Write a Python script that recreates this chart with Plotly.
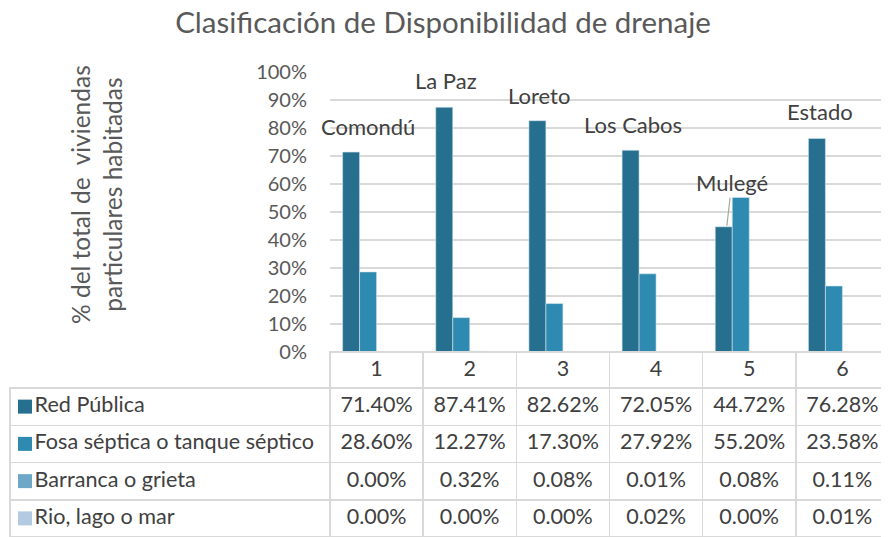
import plotly.graph_objects as go

categories = ["1", "2", "3", "4", "5", "6"]
municipios = ["Comondú", "La Paz", "Loreto", "Los Cabos", "Mulegé", "Estado"]

series_names = ["Red Pública", "Fosa séptica o tanque séptico",
                "Barranca o grieta", "Rio, lago o mar"]
red_publica = [71.40, 87.41, 82.62, 72.05, 44.72, 76.28]
fosa_septica = [28.60, 12.27, 17.30, 27.92, 55.20, 23.58]
barranca = [0.00, 0.32, 0.08, 0.01, 0.08, 0.11]
rio_lago_mar = [0.00, 0.00, 0.00, 0.02, 0.00, 0.01]

y_ticks = list(range(0, 101, 10))
y_tick_labels = [f"{v}%" for v in y_ticks]

# the page adds an 8px body margin, so the figure is laid out 8px smaller
OFF = 8
W, H = 889 - OFF, 537 - OFF


def px(x):
    return (x - OFF) / W


def py(y):
    return 1 - (y - OFF) / H


FONT = "Lato"
colors = ["#276f8f", "#2e8ab0", "#6ea8c8", "#b3cbe0"]
grid = "#d9d9d9"
txt = "#404040"
axis_txt = "#595959"

all_series = [red_publica, fosa_septica, barranca, rio_lago_mar]

fig = go.Figure()
for name, vals, c in zip(series_names, all_series, colors):
    fig.add_trace(go.Bar(
        x=categories, y=vals, name=name,
        marker=dict(color=c, line=dict(color="#d4e8f0", width=0.6)),
    ))

# data table below the chart (header row = category axis)
pad = "\u00a0" * 3
first_col = [pad + n for n in series_names]
value_cols = [[f"{s[i]:.2f}%" for s in all_series] for i in range(len(categories))]

row_h = 37.25
table_top = 352
fig.add_trace(go.Table(
    domain=dict(x=[px(10), 1], y=[0, py(table_top)]),
    columnwidth=[320] + [93.2] * 6,
    header=dict(
        values=[""] + categories,
        height=36,
        align="center",
        line=dict(color=["rgba(0,0,0,0)"] + [grid] * 6, width=1.5),
        fill=dict(color=["rgba(0,0,0,0)"] + ["white"] * 6),
        font=dict(family=FONT, size=21.5, color=txt),
    ),
    cells=dict(
        values=[first_col] + value_cols,
        height=row_h,
        align=["left"] + ["center"] * 6,
        line=dict(color=grid, width=1.5),
        fill=dict(color="white"),
        font=dict(family=FONT, size=[21.6] + [21.5] * 6, color=txt),
    ),
))

# legend keys in the first table column
shapes = []
for i, c in enumerate(colors):
    yc = table_top + 36 + row_h * (i + 0.5)
    shapes.append(dict(type="rect", xref="paper", yref="paper",
                       x0=px(18), x1=px(32), y0=py(yc + 7), y1=py(yc - 7),
                       fillcolor=c, line=dict(width=0)))

label_pos = {  # (y in %, xshift px)
    "Comondú": (80.6, -9), "La Paz": (97, -24), "Loreto": (91.7, -24),
    "Los Cabos": (81.2, -23), "Estado": (86, -22),
}
annotations = []
for i, m in enumerate(municipios):
    if m in label_pos:
        yy, dx = label_pos[m]
        annotations.append(dict(x=i, y=yy, xref="x", yref="y", text=m,
                                showarrow=False, xshift=dx,
                                xanchor="center", yanchor="middle",
                                font=dict(family=FONT, size=22, color=txt)))
# Mulegé label with leader line to the bar top
annotations.append(dict(x=4, y=red_publica[4], xref="x", yref="y", text="Mulegé",
                        xshift=-22.5, showarrow=True, arrowhead=0, arrowwidth=1.2,
                        arrowcolor="#a6a6a6", ax=5, ay=-44, standoff=1,
                        font=dict(family=FONT, size=22, color=txt)))
annotations.append(dict(x=px(96), y=py(195), xref="paper", yref="paper",
                        xanchor="center", yanchor="middle",
                        text="% del total de  viviendas<br>particulares habitadas",
                        textangle=-90, showarrow=False,
                        font=dict(family=FONT, size=24.5, color=axis_txt)))

fig.update_layout(
    width=W, height=H, autosize=False,
    margin=dict(l=0, r=0, t=0, b=0, pad=0),
    paper_bgcolor="white", plot_bgcolor="white",
    barmode="group", bargap=0.27, bargroupgap=0,
    showlegend=False,
    title=dict(text="Clasificación de Disponibilidad de drenaje",
               x=px(443), xanchor="center", y=py(23), yanchor="middle",
               font=dict(family=FONT, size=29.5, color=axis_txt)),
    xaxis=dict(domain=[px(330), 1], type="category", range=[-0.5, 5.5],
               showticklabels=False, automargin=False,
               showgrid=False, zeroline=False, ticks=""),
    yaxis=dict(domain=[py(352), py(72)], range=[0, 100], automargin=False,
               tickmode="array", tickvals=y_ticks, ticktext=y_tick_labels,
               showgrid=True, gridcolor=grid, gridwidth=1.5, zeroline=False,
               ticks="", ticklen=0, ticklabelstandoff=22,
               tickfont=dict(family=FONT, size=20, color=axis_txt)),
    annotations=annotations,
    shapes=shapes,
)

fig.write_html("out.html")
